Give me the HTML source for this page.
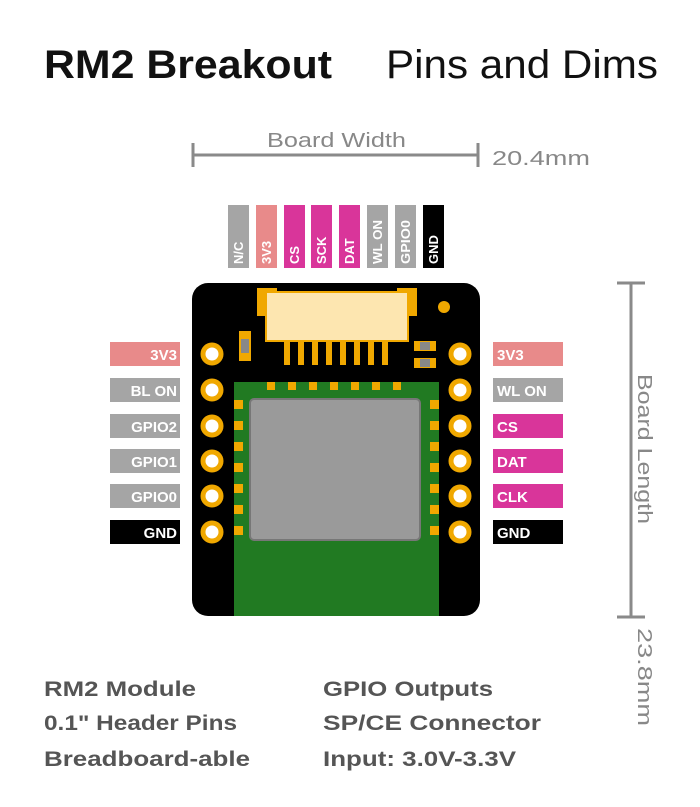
<!DOCTYPE html>
<html><head><meta charset="utf-8"><style>
html,body{margin:0;padding:0;background:#fff;}
svg{display:block;}
text{font-family:"Liberation Sans",sans-serif;}
</style></head><body>
<svg width="700" height="807" viewBox="0 0 700 807" xmlns="http://www.w3.org/2000/svg">
<!-- titles -->
<text x="44" y="78" font-size="40" font-weight="bold" fill="#111" textLength="288" lengthAdjust="spacingAndGlyphs">RM2 Breakout</text>
<text x="386" y="78" font-size="40" fill="#111" textLength="272" lengthAdjust="spacingAndGlyphs">Pins and Dims</text>
<!-- width dim -->
<g stroke="#8a8a8a" stroke-width="3" fill="none">
<line x1="193" y1="155" x2="478" y2="155"/>
<line x1="193" y1="143" x2="193" y2="167"/>
<line x1="478" y1="143" x2="478" y2="167"/>
<line x1="631" y1="283" x2="631" y2="617"/>
<line x1="617" y1="283" x2="645" y2="283"/>
<line x1="617" y1="617" x2="645" y2="617"/>
</g>
<text x="267" y="147" font-size="20" fill="#888" textLength="139" lengthAdjust="spacingAndGlyphs">Board Width</text>
<text x="492" y="165" font-size="20" fill="#888" textLength="98" lengthAdjust="spacingAndGlyphs">20.4mm</text>
<text transform="translate(638,374) rotate(90)" font-size="20" fill="#888" textLength="150" lengthAdjust="spacingAndGlyphs">Board Length</text>
<text transform="translate(638,628) rotate(90)" font-size="20" fill="#888" textLength="98" lengthAdjust="spacingAndGlyphs">23.8mm</text>

<!-- top labels -->
<g font-size="13" font-weight="bold" fill="#fff">
<rect x="228" y="205" width="21" height="63" fill="#a5a5a5"/>
<rect x="256" y="205" width="21" height="63" fill="#e88a8a"/>
<rect x="284" y="205" width="21" height="63" fill="#d9359a"/>
<rect x="311" y="205" width="21" height="63" fill="#d9359a"/>
<rect x="339" y="205" width="21" height="63" fill="#d9359a"/>
<rect x="367" y="205" width="21" height="63" fill="#a5a5a5"/>
<rect x="395" y="205" width="21" height="63" fill="#a5a5a5"/>
<rect x="423" y="205" width="21" height="63" fill="#000"/>
<text transform="translate(243,264) rotate(-90)">N/C</text>
<text transform="translate(271,264) rotate(-90)">3V3</text>
<text transform="translate(299,264) rotate(-90)">CS</text>
<text transform="translate(326,264) rotate(-90)">SCK</text>
<text transform="translate(354,264) rotate(-90)">DAT</text>
<text transform="translate(382,264) rotate(-90)" textLength="44" lengthAdjust="spacingAndGlyphs">WL ON</text>
<text transform="translate(410,264) rotate(-90)" textLength="44" lengthAdjust="spacingAndGlyphs">GPIO0</text>
<text transform="translate(438,264) rotate(-90)">GND</text>
</g>

<!-- board -->
<rect x="192" y="283" width="288" height="333" rx="16" fill="#000"/>
<!-- green module -->
<rect x="234" y="382" width="205" height="234" fill="#217a22"/>
<rect x="250" y="399" width="170" height="141" rx="4" fill="#9a9a9a" stroke="#777" stroke-width="2"/>
<g fill="#f0a800">
<rect x="267" y="382" width="8" height="8"/><rect x="288" y="382" width="8" height="8"/><rect x="309" y="382" width="8" height="8"/><rect x="330" y="382" width="8" height="8"/><rect x="351" y="382" width="8" height="8"/><rect x="372" y="382" width="8" height="8"/><rect x="393" y="382" width="8" height="8"/>
</g>
<g fill="#f0a800">
<rect x="234" y="400" width="9" height="9"/><rect x="234" y="421" width="9" height="9"/><rect x="234" y="442" width="9" height="9"/><rect x="234" y="463" width="9" height="9"/><rect x="234" y="484" width="9" height="9"/><rect x="234" y="505" width="9" height="9"/><rect x="234" y="526" width="9" height="9"/>
<rect x="430" y="400" width="9" height="9"/><rect x="430" y="421" width="9" height="9"/><rect x="430" y="442" width="9" height="9"/><rect x="430" y="463" width="9" height="9"/><rect x="430" y="484" width="9" height="9"/><rect x="430" y="505" width="9" height="9"/><rect x="430" y="526" width="9" height="9"/>
</g>
<!-- connector -->
<g fill="#f0a800">
<rect x="257" y="288" width="20" height="28"/><rect x="397" y="288" width="20" height="28"/>
<rect x="284" y="340" width="6" height="25"/><rect x="298" y="340" width="6" height="25"/><rect x="312" y="340" width="6" height="25"/><rect x="326" y="340" width="6" height="25"/><rect x="340" y="340" width="6" height="25"/><rect x="354" y="340" width="6" height="25"/><rect x="368" y="340" width="6" height="25"/><rect x="382" y="340" width="6" height="25"/>
</g>
<rect x="266" y="292" width="142" height="49" fill="#fde6b0" stroke="#f0a800" stroke-width="2"/>
<!-- components -->
<rect x="239" y="331" width="12" height="30" fill="#f0a800"/><rect x="241" y="339" width="8" height="14" fill="#888"/>
<rect x="414" y="341" width="22" height="10" fill="#f0a800"/><rect x="420" y="342" width="10" height="8" fill="#888"/>
<rect x="414" y="358" width="22" height="10" fill="#f0a800"/><rect x="420" y="359" width="10" height="8" fill="#888"/>
<circle cx="444" cy="307" r="6" fill="#f0a800"/>
<!-- pins -->
<g fill="#fff" stroke="#f0a800" stroke-width="5">
<circle cx="212" cy="354" r="9"/><circle cx="212" cy="390" r="9"/><circle cx="212" cy="426" r="9"/><circle cx="212" cy="461" r="9"/><circle cx="212" cy="496" r="9"/><circle cx="212" cy="532" r="9"/>
<circle cx="460" cy="354" r="9"/><circle cx="460" cy="390" r="9"/><circle cx="460" cy="426" r="9"/><circle cx="460" cy="461" r="9"/><circle cx="460" cy="496" r="9"/><circle cx="460" cy="532" r="9"/>
</g>
<!-- left labels -->
<g font-size="15" font-weight="bold" fill="#fff" text-anchor="end">
<rect x="110" y="342" width="70" height="24" fill="#e88a8a"/>
<rect x="110" y="378" width="70" height="24" fill="#a5a5a5"/>
<rect x="110" y="414" width="70" height="24" fill="#a5a5a5"/>
<rect x="110" y="449" width="70" height="24" fill="#a5a5a5"/>
<rect x="110" y="484" width="70" height="24" fill="#a5a5a5"/>
<rect x="110" y="520" width="70" height="24" fill="#000"/>
<text x="177" y="360">3V3</text>
<text x="177" y="396">BL ON</text>
<text x="177" y="432">GPIO2</text>
<text x="177" y="467">GPIO1</text>
<text x="177" y="502">GPIO0</text>
<text x="177" y="538">GND</text>
</g>
<g font-size="15" font-weight="bold" fill="#fff">
<rect x="493" y="342" width="70" height="24" fill="#e88a8a"/>
<rect x="493" y="378" width="70" height="24" fill="#a5a5a5"/>
<rect x="493" y="414" width="70" height="24" fill="#d9359a"/>
<rect x="493" y="449" width="70" height="24" fill="#d9359a"/>
<rect x="493" y="484" width="70" height="24" fill="#d9359a"/>
<rect x="493" y="520" width="70" height="24" fill="#000"/>
<text x="497" y="360">3V3</text>
<text x="497" y="396">WL ON</text>
<text x="497" y="432">CS</text>
<text x="497" y="467">DAT</text>
<text x="497" y="502">CLK</text>
<text x="497" y="538">GND</text>
</g>
<!-- bottom text -->
<g font-size="21" font-weight="bold" fill="#555">
<text x="44" y="696" textLength="152" lengthAdjust="spacingAndGlyphs">RM2 Module</text>
<text x="44" y="730" textLength="193" lengthAdjust="spacingAndGlyphs">0.1" Header Pins</text>
<text x="44" y="766" textLength="206" lengthAdjust="spacingAndGlyphs">Breadboard-able</text>
<text x="323" y="696" textLength="170" lengthAdjust="spacingAndGlyphs">GPIO Outputs</text>
<text x="323" y="730" textLength="218" lengthAdjust="spacingAndGlyphs">SP/CE Connector</text>
<text x="323" y="766" textLength="193" lengthAdjust="spacingAndGlyphs">Input: 3.0V-3.3V</text>
</g>
</svg>
</body></html>
